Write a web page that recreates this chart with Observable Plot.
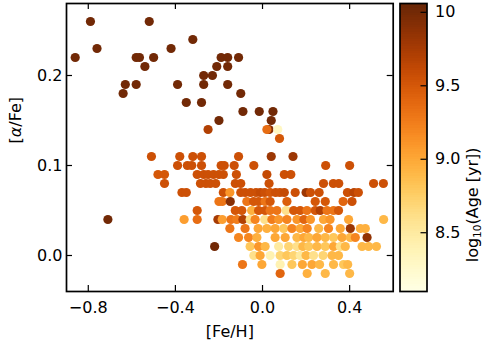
<!DOCTYPE html>
<html><head><meta charset="utf-8">
<script src="https://cdn.jsdelivr.net/npm/d3@7"></script>
<script src="https://cdn.jsdelivr.net/npm/@observablehq/plot@0.6"></script>
<style>
html,body{margin:0;padding:0;background:#fff;}
#chart{position:relative;width:485px;height:343px;}
#chart svg{position:absolute;left:0;top:0;}
</style></head><body><div id="chart"></div>
<script>
// [Fe/H] values (x)
const feh = [
  -0.79,-0.52,-0.76,-0.86,-0.58,-0.565,-0.50,-0.42,-0.32,-0.54,-0.63,-0.58,-0.64,-0.39,-0.35,-0.28,-0.27,-0.27,-0.23,-0.21,-0.19,-0.16,-0.16,-0.11,-0.16,-0.10,-0.20,-0.09,-0.015,0.048,0.04,
  0.03,-0.25,0.02,0.07,0.078,-0.71,-0.22,
  -0.51,-0.38,-0.32,-0.28,-0.11,0.04,0.14,
  -0.39,-0.345,-0.325,-0.28,-0.19,-0.176,-0.13,-0.04,0.29,0.40,
  -0.48,-0.45,-0.30,-0.27,-0.25,-0.225,-0.20,-0.18,-0.12,0.02,0.10,0.13,
  -0.45,-0.285,-0.26,-0.24,-0.215,-0.125,-0.10,0.03,0.28,0.325,0.35,0.51,0.555,
  -0.37,-0.35,-0.18,-0.15,-0.10,-0.08,-0.055,-0.03,-0.01,0.01,0.035,0.06,0.08,0.10,0.15,0.20,0.22,0.26,0.39,0.42,0.44,
  -0.20,-0.185,-0.148,-0.072,-0.041,-0.018,0.012,0.035,0.112,0.242,0.288,0.37,0.411,
  -0.30,-0.125,-0.095,-0.05,-0.018,0.012,0.035,0.066,0.108,0.143,0.173,0.204,0.242,0.265,0.296,0.326,0.349,
  -0.36,-0.30,-0.205,-0.185,-0.145,-0.118,-0.09,-0.057,-0.034,0.01,0.043,0.074,0.112,0.158,0.19,0.22,0.28,0.31,0.395,0.556,
  -0.15,-0.08,-0.02,0.02,0.058,0.097,0.135,0.173,0.205,0.258,0.303,0.357,0.403,0.449,0.472,
  -0.11,-0.064,-0.026,0.058,0.104,0.158,0.19,0.212,0.25,0.288,0.326,0.365,0.403,0.426,0.48,
  -0.057,-0.018,0.012,0.074,0.12,0.158,0.185,0.212,0.25,0.288,0.326,0.357,0.38,0.457,0.487,0.523,
  -0.04,-0.011,0.035,0.081,0.112,0.143,0.173,0.20,0.234,0.278,0.319,0.349,
  -0.092,-0.003,0.081,0.135,0.183,0.227,0.262,0.326,0.372,0.391,
  0.081,0.205,0.288,0.40
];
// [alpha/Fe] values (y)
const alphaFe = [
  0.26,0.26,0.23,0.22,0.22,0.22,0.22,0.23,0.24,0.21,0.19,0.19,0.18,0.19,0.17,0.17,0.20,0.19,0.20,0.21,0.22,0.22,0.21,0.22,0.19,0.18,0.15,0.16,0.16,0.16,0.15,
  0.14,0.14,0.14,0.14,0.13,0.04,0.01,
  0.11,0.11,0.11,0.11,0.11,0.11,0.11,
  0.10,0.10,0.10,0.10,0.10,0.10,0.10,0.10,0.10,0.10,
  0.09,0.09,0.09,0.09,0.09,0.09,0.09,0.09,0.09,0.09,0.09,0.09,
  0.08,0.08,0.08,0.08,0.08,0.08,0.08,0.08,0.08,0.08,0.08,0.08,0.08,
  0.07,0.07,0.07,0.07,0.07,0.07,0.07,0.07,0.07,0.07,0.07,0.07,0.07,0.07,0.07,0.07,0.07,0.07,0.07,0.07,0.07,
  0.06,0.06,0.06,0.06,0.06,0.06,0.06,0.06,0.06,0.06,0.06,0.06,0.06,
  0.05,0.05,0.05,0.05,0.05,0.05,0.05,0.05,0.05,0.05,0.05,0.05,0.05,0.05,0.05,0.05,0.05,
  0.04,0.04,0.04,0.04,0.04,0.04,0.04,0.04,0.04,0.04,0.04,0.04,0.04,0.04,0.04,0.04,0.04,0.04,0.04,0.04,
  0.03,0.03,0.03,0.03,0.03,0.03,0.03,0.03,0.03,0.03,0.03,0.03,0.03,0.03,0.03,
  0.02,0.02,0.02,0.02,0.02,0.02,0.02,0.02,0.02,0.02,0.02,0.02,0.02,0.02,0.02,
  0.01,0.01,0.01,0.01,0.01,0.01,0.01,0.01,0.01,0.01,0.01,0.01,0.01,0.01,0.01,0.01,
  0.00,0.00,0.00,0.00,0.00,0.00,0.00,0.00,0.00,0.00,0.00,0.00,
  -0.01,-0.01,-0.01,-0.01,-0.01,-0.01,-0.01,-0.01,-0.01,-0.01,
  -0.02,-0.02,-0.02,-0.02
];
// log10(Age [yr]) values (colour)
const logAge = [
  10,10,10,10,10,10,10,10,10,10,10,10,10,10,10,10,10,10,10,10,10,10,10,10,10,10,10,10,10,10,10,
  9.9,9.7,9.35,8.3,9.5,10,10,
  9.55,9.55,9.55,9.55,9.55,9.8,9.8,
  9.55,9.55,9.55,9.55,9.55,9.55,9.55,9.55,9.55,9.55,
  9.5,9.5,9.55,9.55,9.55,9.55,9.55,9.55,9.55,9.6,9.55,9.55,
  9.55,9.55,9.55,9.55,9.55,9.55,9.55,9.55,9.55,9.55,9.55,9.55,9.55,
  9.55,9.55,9.55,9.1,9.55,9.55,9.55,9.55,9.6,9.55,9.5,9.55,9.55,9.6,9.55,9.8,9.55,9.55,9.55,9.65,9.55,
  9.3,9.3,9.9,9.3,9.5,9.5,9.3,9.5,9.45,9.5,9.5,9.4,9.55,
  9.5,9.5,9.5,8.95,9.5,9.5,9.3,9.3,8.6,9.5,9.5,9.3,9.5,9.7,9.3,9.3,9.5,
  9.05,9.35,9.75,9.05,9.3,9.25,9.7,8.6,9.2,8.6,9.25,9.1,9.2,9.1,9.4,9.1,9.0,9.1,9.0,8.9,
  9.3,9.3,9.0,8.95,9.0,8.8,9.2,9.0,9.2,8.9,9.2,9.0,9.8,8.95,8.95,
  9.2,9.2,8.95,9.0,9.0,8.9,9.0,8.9,9.0,8.9,8.8,9.0,8.9,9.2,9.85,
  8.8,9.1,8.9,8.5,8.7,8.6,8.9,8.8,8.9,8.8,9.0,8.6,8.9,8.9,8.9,8.9,
  8.6,9.0,8.4,8.7,8.8,8.7,8.5,8.9,8.6,8.7,8.9,8.9,
  9.3,9.0,8.4,8.8,9.0,9.0,8.9,8.9,8.8,8.9,
  9.4,8.95,8.9,8.9
];
const xTicks = [-0.8, -0.4, 0.0, 0.4];
const yTicks = [0.0, 0.1, 0.2];
const cTicks = [8.5, 9.0, 9.5, 10];
const xDomain = [-0.9, 0.6];
const yDomain = [-0.04, 0.28];
const cDomain = [8.1, 10.06];

const W = 485, H = 343;
const ML = 66, MR = 92.3, MT = 3, MB = 52;
const CB_L = 399.5, CB_R = 426.5;
const FONT = "DejaVu Sans";
const FS = 16;
const TL = 6;
const innerW = W - ML - MR, innerH = H - MT - MB;
const colorOpts = {type: "linear", scheme: "YlOrBr", domain: cDomain};

const pts = feh.map((x, i) => ({x, y: alphaFe[i], age: logAge[i]}));
const fmt1 = d3.format(".1f");

const main = Plot.plot({
  width: W, height: H,
  marginLeft: ML, marginRight: MR, marginTop: MT, marginBottom: MB,
  style: {fontFamily: FONT, fontSize: FS + "px", background: "transparent", color: "black"},
  x: {domain: xDomain},
  y: {domain: yDomain},
  color: colorOpts,
  marks: [
    Plot.dot(pts, {x: "x", y: "y", fill: "age", r: 4.6}),
    Plot.tickX(xTicks, {x: d => d, insetTop: innerH - TL, stroke: "black", strokeWidth: 1.2}),
    Plot.tickX(xTicks, {x: d => d, insetBottom: innerH - TL, stroke: "black", strokeWidth: 1.2}),
    Plot.tickY(yTicks, {y: d => d, insetRight: innerW - TL, stroke: "black", strokeWidth: 1.2}),
    Plot.tickY(yTicks, {y: d => d, insetLeft: innerW - TL, stroke: "black", strokeWidth: 1.2}),
    Plot.axisX({ticks: xTicks, tickSize: 0, tickPadding: 10.5, tickFormat: fmt1, label: null, fontSize: FS}),
    Plot.axisY({ticks: yTicks, tickSize: 0, tickPadding: 4, tickFormat: fmt1, label: null, fontSize: FS}),
    Plot.frame({stroke: "black", strokeWidth: 1.7}),
    Plot.text(["[Fe/H]"], {frameAnchor: "bottom", dy: 45, fontSize: FS}),
    Plot.text(["[α/Fe]"], {frameAnchor: "left", dx: -51, dy: -4, rotate: -90, fontSize: FS})
  ]
});

const cbSteps = d3.range(0, 120).map(i => {
  const a = cDomain[0] + (cDomain[1] - cDomain[0]) * i / 120;
  const b = cDomain[0] + (cDomain[1] - cDomain[0]) * (i + 1) / 120;
  return {a, b, m: (a + b) / 2};
});

const cb = Plot.plot({
  width: W, height: H,
  marginLeft: CB_L, marginRight: W - CB_R, marginTop: MT, marginBottom: MB,
  style: {fontFamily: FONT, fontSize: FS + "px", background: "transparent", color: "black"},
  x: {domain: [0, 1], axis: null},
  y: {domain: cDomain},
  color: colorOpts,
  marks: [
    Plot.rect(cbSteps, {x1: 0, x2: 1, y1: "a", y2: "b", fill: "m", shapeRendering: "crispEdges"}),
    Plot.tickY(cTicks, {y: d => d, insetLeft: (CB_R - CB_L) - TL, stroke: "black", strokeWidth: 1.2}),
    Plot.axisY({anchor: "right", ticks: cTicks, tickSize: 0, tickPadding: 8,
      tickFormat: d => d === 10 ? "10" : d.toFixed(1), label: null, fontSize: FS}),
    Plot.frame({stroke: "black", strokeWidth: 1.7}),
    Plot.text(["log10(Age [yr])"], {frameAnchor: "right", dx: 45.5, rotate: -90, fontSize: FS})
  ]
});

const holder = document.getElementById("chart");
holder.appendChild(main);
holder.appendChild(cb);

// italic alpha (matplotlib mathtext) and subscript 10
d3.select(main).selectAll("text").each(function() {
  if (this.textContent === "[α/Fe]") {
    this.textContent = "";
    const t = d3.select(this);
    t.append("tspan").text("[");
    t.append("tspan").attr("font-style", "italic").text("α");
    t.append("tspan").text("/Fe]");
  }
});
d3.select(cb).selectAll("text").each(function() {
  if (this.textContent === "log10(Age [yr])") {
    this.textContent = "";
    const t = d3.select(this);
    t.append("tspan").text("log");
    t.append("tspan").attr("font-size", "10.5px").attr("dy", "3").text("10");
    t.append("tspan").attr("dy", "-3").text("(Age [yr])");
  }
});
</script></body></html>
